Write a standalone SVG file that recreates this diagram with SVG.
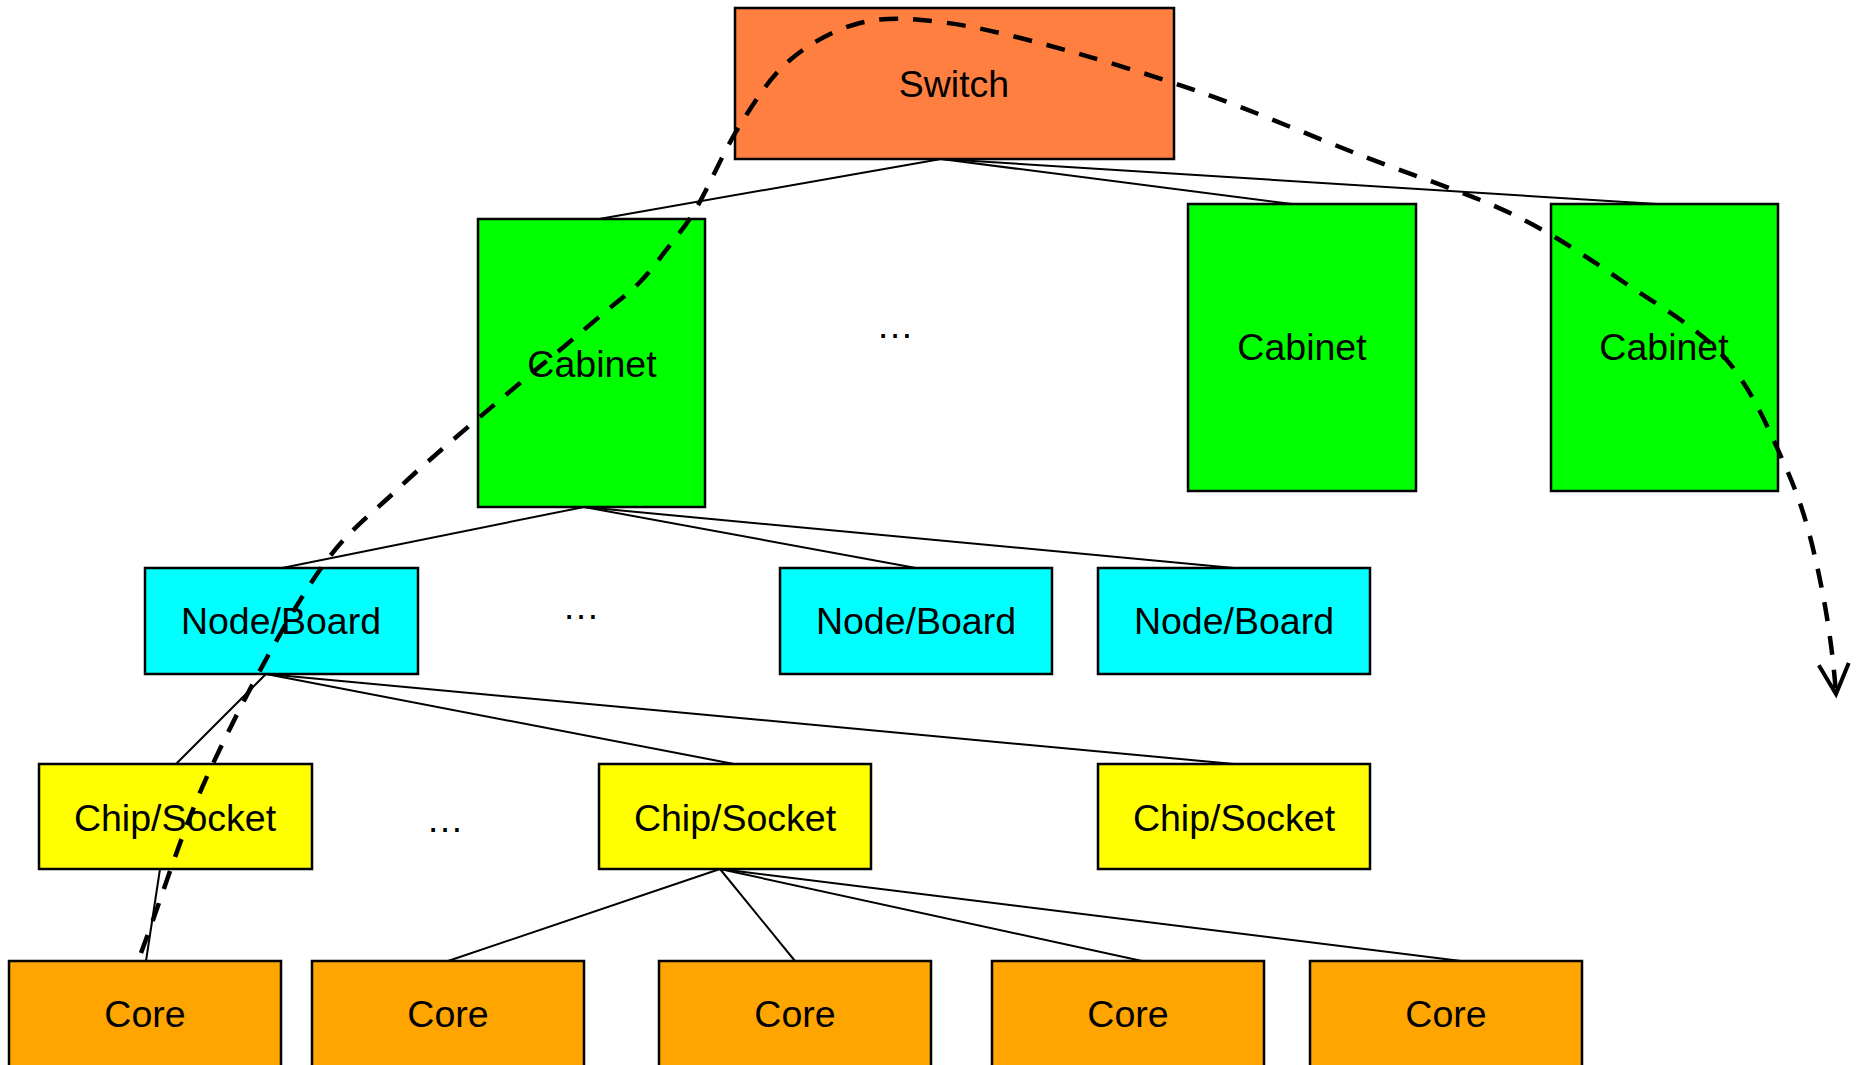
<svg xmlns="http://www.w3.org/2000/svg" width="1860" height="1065" viewBox="0 0 1860 1065">
<style>
  .box { stroke: #000; stroke-width: 2.5; }
  .switch { fill: #FF7F40; }
  .cabinet { fill: #00FF00; }
  .node { fill: #00FFFF; }
  .chip { fill: #FFFF00; }
  .core { fill: #FFA500; }
  .lbl { font-family: "Liberation Sans", Arial, sans-serif; font-size: 37.5px; fill: #000; text-anchor: middle; }
  .link { stroke: #000; stroke-width: 2; fill: none; }
  .path { stroke: #000; stroke-width: 4.5; fill: none; stroke-dasharray: 19 15; }
</style>
<defs>
  <marker id="openArrow" markerUnits="userSpaceOnUse" markerWidth="40" markerHeight="40" viewBox="-34 -20 40 40" refX="0" refY="0" orient="auto" overflow="visible">
    <path d="M-30,-15 L0,0 L-30,15" fill="none" stroke="#000" stroke-width="4" stroke-linejoin="miter"/>
  </marker>
</defs>
<rect width="1860" height="1065" fill="#FFFFFF"/>

<g id="connectors">
  <line class="link" x1="941" y1="159" x2="599" y2="219"/>
  <line class="link" x1="941" y1="159" x2="1292" y2="204"/>
  <line class="link" x1="941" y1="159" x2="1657" y2="204"/>
  <line class="link" x1="584" y1="507" x2="282" y2="568"/>
  <line class="link" x1="584" y1="507" x2="916" y2="568"/>
  <line class="link" x1="584" y1="507" x2="1234" y2="568"/>
  <line class="link" x1="266" y1="674" x2="176" y2="764"/>
  <line class="link" x1="266" y1="674" x2="734" y2="764"/>
  <line class="link" x1="266" y1="674" x2="1234" y2="764"/>
  <line class="link" x1="160" y1="869" x2="146" y2="961"/>
  <line class="link" x1="720" y1="869" x2="448" y2="961"/>
  <line class="link" x1="720" y1="869" x2="795" y2="961"/>
  <line class="link" x1="720" y1="869" x2="1142" y2="961"/>
  <line class="link" x1="720" y1="869" x2="1461" y2="961"/>
</g>

<g id="switch">
  <rect class="box switch" x="735" y="8" width="439" height="151"/>
  <text class="lbl" x="954" y="97">Switch</text>
</g>
<g id="cabinet1">
  <rect class="box cabinet" x="478" y="219" width="227" height="288"/>
  <text class="lbl" x="592" y="377">Cabinet</text>
</g>
<g id="cabinet2">
  <rect class="box cabinet" x="1188" y="204" width="228" height="287"/>
  <text class="lbl" x="1302" y="360">Cabinet</text>
</g>
<g id="cabinet3">
  <rect class="box cabinet" x="1551" y="204" width="227" height="287"/>
  <text class="lbl" x="1664" y="360">Cabinet</text>
</g>
<g id="node1">
  <rect class="box node" x="145" y="568" width="273" height="106"/>
  <text class="lbl" x="281" y="634">Node/Board</text>
</g>
<g id="node2">
  <rect class="box node" x="780" y="568" width="272" height="106"/>
  <text class="lbl" x="916" y="634">Node/Board</text>
</g>
<g id="node3">
  <rect class="box node" x="1098" y="568" width="272" height="106"/>
  <text class="lbl" x="1234" y="634">Node/Board</text>
</g>
<g id="chip1">
  <rect class="box chip" x="39" y="764" width="273" height="105"/>
  <text class="lbl" x="175" y="831">Chip/Socket</text>
</g>
<g id="chip2">
  <rect class="box chip" x="599" y="764" width="272" height="105"/>
  <text class="lbl" x="735" y="831">Chip/Socket</text>
</g>
<g id="chip3">
  <rect class="box chip" x="1098" y="764" width="272" height="105"/>
  <text class="lbl" x="1234" y="831">Chip/Socket</text>
</g>
<g id="core1">
  <rect class="box core" x="9" y="961" width="272" height="108"/>
  <text class="lbl" x="145" y="1027">Core</text>
</g>
<g id="core2">
  <rect class="box core" x="312" y="961" width="272" height="108"/>
  <text class="lbl" x="448" y="1027">Core</text>
</g>
<g id="core3">
  <rect class="box core" x="659" y="961" width="272" height="108"/>
  <text class="lbl" x="795" y="1027">Core</text>
</g>
<g id="core4">
  <rect class="box core" x="992" y="961" width="272" height="108"/>
  <text class="lbl" x="1128" y="1027">Core</text>
</g>
<g id="core5">
  <rect class="box core" x="1310" y="961" width="272" height="108"/>
  <text class="lbl" x="1446" y="1027">Core</text>
</g>

<g id="ellipses">
  <text class="lbl" x="895" y="338">…</text>
  <text class="lbl" x="581" y="619">…</text>
  <text class="lbl" x="445" y="832">…</text>
</g>

<g id="traversal">
  <path class="path" marker-end="url(#openArrow)" d="M141,953 C164,892 181,832.3 210,770 C239,707.3 283.3,624.2 315,577 C346.7,529.8 368.3,517.5 400,487 C432,456.5 480.3,416.8 507,394 C533.7,371.2 543.7,363.7 560,350 C576.3,336.3 591.7,323.3 605,312 C618.3,300.7 629.2,293.2 640,282 C650.8,270.8 660.5,257.5 670,245 C679.5,232.5 685.3,227 697,207 C708.7,187 724.5,149.5 740,125 C755.5,100.5 770,77 790,60 C810,43 835,29.3 860,23 C885,16.7 908.8,18.3 940,22 C971.2,25.7 1003.7,33.3 1047,45 C1090.3,56.7 1147.8,73.7 1200,92 C1252.2,110.3 1308,134.7 1360,155 C1412,175.3 1467.8,192.7 1512,214 C1556.2,235.3 1589.5,259 1625,283 C1660.5,307 1698.7,328.3 1725,358 C1751.3,387.7 1768,427.8 1783,461 C1798,494.2 1806.2,518.8 1815,557 C1823.8,595.2 1832,640 1836,694"/>
</g>
</svg>
